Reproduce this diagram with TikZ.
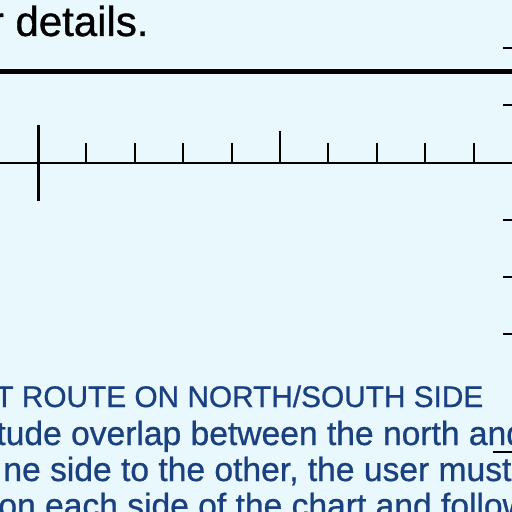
\documentclass[tikz,border=0pt]{standalone}
\usepackage{fontspec}
\setmainfont{Liberation Sans}
\newfontfamily\chartfont{Liberation Sans}[FakeBold=0.8]
\usetikzlibrary{positioning}
\definecolor{chartbg}{HTML}{E8F8FD}
\definecolor{chartblue}{HTML}{1A4080}
\tikzstyle{note}=[anchor=base west, inner sep=0pt, text=black,
    font=\chartfont\fontsize{21pt}{24pt}\selectfont]
\tikzstyle{legend}=[anchor=base west, inner sep=0pt, text=chartblue,
    font=\chartfont\fontsize{14.9pt}{18pt}\selectfont]
\tikzstyle{body}=[legend, font=\chartfont\fontsize{16.8pt}{20pt}\selectfont]
\tikzstyle{tick}=[draw=black, line width=1pt]
\tikzstyle{bigtick}=[draw=black, line width=1.5pt]
\def\tickdist{48.4}

\begin{document}
\begin{tikzpicture}[x=0.5pt, y=-0.5pt]
    \fill[chartbg] (0,0) rectangle (512,512);
    \useasboundingbox (0,0) rectangle (512,512);
    \clip (0,0) rectangle (512,512);
    \node (details) [note, anchor=base east] at (149,36) {r details.};
    % boundary line
    \coordinate (bl) at (0,71.5);
    \coordinate (br) at (512,71.5);
    \draw[line width=2.5pt] (bl) -- (br);
    % scale
    \coordinate (s0) at (38,163);
    \coordinate (send) at (512,163);
    \draw[tick] (0,163) -- (send);
    \draw[bigtick] (38,125) -- (38,201);
    \foreach \i in {1,...,9} {
        \coordinate (s\i) at (38+\i*\tickdist,163);
        \draw[tick] (s\i) -- ++(0,-20);
    }
    \draw[tick] (s5) -- ++(0,-32);
    % edge ticks
    \foreach \y in {48,105,220,277,334} {
        \coordinate (e\y) at (503,\y);
        \draw[line width=1.2pt] (e\y) -- ++(9,0);
    }
    % legend text
    \node (head) [legend] at (-5,407) {T ROUTE ON NORTH/SOUTH SIDE};
    \node (l1) [body] at (-4,445) {tude overlap between the north and};
    \node (l2) [body] at (3,481) {ne side to the other, the user must};
    \node (l3) [body] at (-2,517) {on each side of the chart and follow};
    \coordinate (ul) at (493,452);
    \draw[line width=0.8pt] (ul) -- ++(19,0);
\end{tikzpicture}
\end{document}
